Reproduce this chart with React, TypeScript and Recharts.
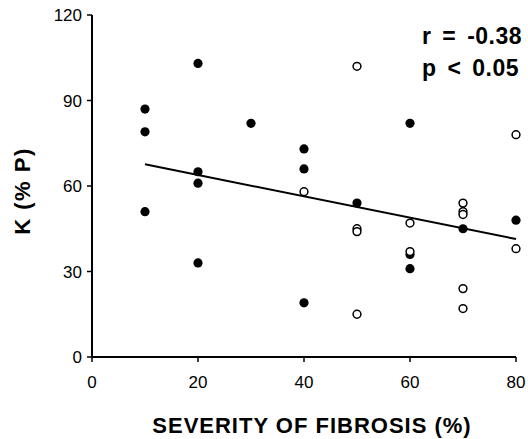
import React from 'react';
import { ScatterChart, Scatter, XAxis, YAxis, ReferenceLine, Label } from 'recharts';

// severity of fibrosis (%) vs K (% predicted)
const filledPts = [
  { x: 10, y: 87 }, { x: 10, y: 79 }, { x: 10, y: 51 },
  { x: 20, y: 103 }, { x: 20, y: 65 }, { x: 20, y: 61 }, { x: 20, y: 33 },
  { x: 30, y: 82 },
  { x: 40, y: 73 }, { x: 40, y: 66 }, { x: 40, y: 19 },
  { x: 50, y: 54 },
  { x: 60, y: 82 }, { x: 60, y: 36 }, { x: 60, y: 31 },
  { x: 70, y: 45 },
  { x: 80, y: 48 },
];

const openPts = [
  { x: 40, y: 58 },
  { x: 50, y: 102 }, { x: 50, y: 45 }, { x: 50, y: 44 }, { x: 50, y: 15 },
  { x: 60, y: 47 }, { x: 60, y: 37 },
  { x: 70, y: 54 }, { x: 70, y: 51 }, { x: 70, y: 50 }, { x: 70, y: 24 }, { x: 70, y: 17 },
  { x: 80, y: 78 }, { x: 80, y: 38 },
];

// regression line end points
const fitLine = [{ x: 10, y: 67.6 }, { x: 80, y: 41.4 }];

const xTicks = [0, 20, 40, 60, 80];
const yTicks = [0, 30, 60, 90, 120];

const statLines = ['r = -0.38', 'p < 0.05'];

const font = '"Liberation Sans", Arial, Helvetica, sans-serif';
const tickStyle = { fontSize: 17, fill: '#000', fontFamily: font };

const FilledDot = (p: any) => <circle cx={p.cx} cy={p.cy} r={4.6} fill="#000" />;
const OpenDot = (p: any) => <circle cx={p.cx} cy={p.cy} r={3.9} fill="#fff" stroke="#000" strokeWidth={1.5} />;

const XTitle = ({ viewBox }: any) => {
  const x = viewBox.x + viewBox.width / 2 + 8;
  const y = viewBox.y + viewBox.height - 6;
  return (
    <text x={x} y={y} textAnchor="middle" fontFamily={font} fontWeight="bold" fontSize={22} letterSpacing={1} fill="#000">
      SEVERITY OF FIBROSIS (%)
    </text>
  );
};

const YTitle = ({ viewBox }: any) => {
  const x = 30;
  const y = viewBox.y + viewBox.height / 2 + 5;
  return (
    <text x={x} y={y} transform={`rotate(-90 ${x} ${y})`} textAnchor="middle" fontFamily={font} fontWeight="bold" fontSize={22} letterSpacing={1.5} fill="#000">
      K (% P)
    </text>
  );
};

export default function App() {
  return (
    <div style={{ position: 'absolute', left: 0, top: 0, width: 528, height: 439, background: '#fff' }}>
      <ScatterChart width={528} height={439} margin={{ top: 15, right: 12, bottom: 0, left: 0 }}>
        <XAxis
          type="number" dataKey="x" domain={[0, 80]} ticks={xTicks} interval={0}
          height={82} stroke="#000" tick={tickStyle} tickSize={5} tickMargin={14}
          axisLine={{ stroke: '#000', strokeWidth: 2 }} tickLine={{ stroke: '#000', strokeWidth: 1.5 }}
        >
          <Label content={XTitle} />
        </XAxis>
        <YAxis
          type="number" dataKey="y" domain={[0, 120]} ticks={yTicks} interval={0}
          width={92} stroke="#000" tick={tickStyle} tickSize={5} tickMargin={5}
          axisLine={{ stroke: '#000', strokeWidth: 2 }} tickLine={{ stroke: '#000', strokeWidth: 1.5 }}
        >
          <Label content={YTitle} />
        </YAxis>
        <ReferenceLine segment={fitLine} stroke="#000" strokeWidth={2} ifOverflow="extendDomain" />
        <Scatter data={filledPts} shape={FilledDot} isAnimationActive={false} />
        <Scatter data={openPts} shape={OpenDot} isAnimationActive={false} />
      </ScatterChart>
      <svg width={528} height={439} style={{ position: 'absolute', left: 0, top: 0, pointerEvents: 'none' }}>
        {statLines.map((s, i) => (
          <text key={s} x={422} y={44 + i * 32} fontFamily={font} fontWeight="bold" fontSize={23}
            wordSpacing={4} letterSpacing={0.5} fill="#000">{s}</text>
        ))}
      </svg>
    </div>
  );
}
